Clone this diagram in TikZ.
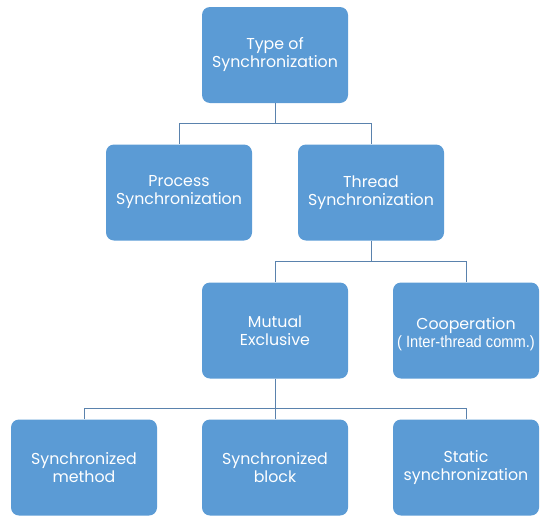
\documentclass[tikz,border=0pt]{standalone}
\usepackage{fontspec}
\setmainfont{Poppins}
\newfontfamily\narrowfont[FakeStretch=0.9]{Liberation Sans}
\begin{document}
\begin{tikzpicture}[x=1pt,y=-1pt,
  box/.style={fill=boxblue,draw=none,rounded corners=8pt,minimum width=146pt,minimum height=96pt,
    align=center,text=white,font=\fontsize{15.8}{18}\selectfont,inner sep=0pt},
  conn/.style={draw=connblue,line width=0.9pt}]
\definecolor{boxblue}{HTML}{5B9BD5}
\definecolor{connblue}{HTML}{5A82AD}
\useasboundingbox (0,0) rectangle (551,522);
\node[box] (top) at (275,55) {Type of\\Synchronization};
\node[box] (proc) at (179,192.5) {Process\\Synchronization};
\node[box] (thr) at (371,192.5) {Thread\\Synchronization};
\node[box] (mut) at (275,330.5) {Mutual\\Exclusive};
\node[box] (coop) at (466,330.5) {\rule{0pt}{19pt}Cooperation\\[0pt]{\narrowfont\fontsize{16.3}{17}\selectfont( Inter-thread comm.)}};
\node[box] (sm) at (84,467.5) {Synchronized\\method};
\node[box] (sb) at (275,467.5) {Synchronized\\block};
\node[box] (ss) at (466,467.5) {Static\\synchronization};
\coordinate (j1) at (275,123);
\coordinate (j2) at (371,261);
\coordinate (j3) at (275,408);
\draw[conn] (top.south) -- (j1);
\draw[conn] (j1) -| (proc.north);
\draw[conn] (j1) -| (thr.north);
\draw[conn] (thr.south) -- (j2);
\draw[conn] (j2) -| (mut.north);
\draw[conn] (j2) -| (coop.north);
\draw[conn] (mut.south) -- (j3);
\draw[conn] (j3) -| (sm.north);
\draw[conn] (j3) -- (sb.north);
\draw[conn] (j3) -| (ss.north);
\end{tikzpicture}
\end{document}
